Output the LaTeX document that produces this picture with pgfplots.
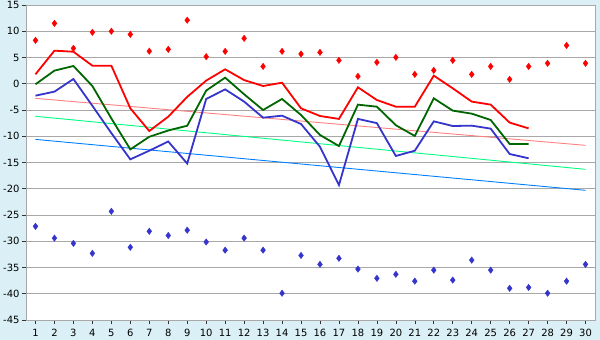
\documentclass[border=0pt]{standalone}
\usepackage{pgfplots}
\pgfplotsset{compat=1.18}
\usepackage{fontspec}
\setmainfont{DejaVu Sans}
\definecolor{bgcol}{HTML}{DAF0F6}
\definecolor{gridcol}{HTML}{A8A8A8}
\definecolor{cred}{HTML}{FF0000}
\definecolor{cgreen}{HTML}{006600}
\definecolor{cblue}{HTML}{3535CC}
\definecolor{tred}{HTML}{FF8080}
\definecolor{tgreen}{HTML}{00FF80}
\definecolor{tblue}{HTML}{0080FF}
\begin{document}
\begin{tikzpicture}
\fill[bgcol] (-26bp,-20bp) rectangle (574bp,320bp);
\useasboundingbox (-26bp,-20bp) rectangle (574bp,320bp);
\begin{axis}[
  at={(0,0)}, anchor=south west,
  scale only axis, width=569bp, height=315bp,
  xmin=0.5, xmax=30.5, ymin=-45, ymax=15,
  xtick={1,...,30}, ytick={-45,-40,...,15},
  ymajorgrids, grid style={draw=gridcol, line width=0.8bp},
  axis background/.style={fill=white},
  axis line style={draw=gridcol, line width=0.8bp},
  tick align=outside, major tick length=4bp,
  major tick style={draw=black!80, line width=0.6bp},
  xtick pos=bottom, ytick pos=left,
  tick label style={font=\fontsize{10}{12}\selectfont},
  /pgf/number format/assume math mode=true,
  xticklabel style={yshift=-1.5bp},
  yticklabel style={xshift=1bp},
  clip=false,
]
% trend lines
\addplot[tred, line width=0.9bp] coordinates {(1,-2.78) (30,-11.73)};
\addplot[tgreen, line width=0.9bp] coordinates {(1,-6.2) (30,-16.3)};
\addplot[tblue, line width=0.9bp] coordinates {(1,-10.6) (30,-20.3)};
% red line
\addplot[cred, line width=1.8bp] coordinates {
(1,1.8) (2,6.3) (3,6.1) (4,3.44) (5,3.44) (6,-4.68) (7,-9.0) (8,-6.27) (9,-2.5) (10,0.6)
(11,2.75) (12,0.7) (13,-0.43) (14,0.2) (15,-4.68) (16,-6.14) (17,-6.7) (18,-0.68) (19,-3.1) (20,-4.37)
(21,-4.37) (22,1.54) (23,-0.87) (24,-3.4) (25,-3.98) (26,-7.4) (27,-8.5)};
% green line
\addplot[cgreen, line width=1.8bp] coordinates {
(1,-0.1) (2,2.5) (3,3.38) (4,-0.43) (5,-6.6) (6,-12.5) (7,-10.1) (8,-8.9) (9,-8.0) (10,-1.3)
(11,1.16) (12,-2.0) (13,-5.0) (14,-2.9) (15,-5.95) (16,-9.76) (17,-11.86) (18,-3.98) (19,-4.37) (20,-7.9)
(21,-9.95) (22,-2.78) (23,-5.12) (24,-5.7) (25,-6.9) (26,-11.48) (27,-11.48)};
% blue line
\addplot[cblue, line width=1.8bp] coordinates {
(1,-2.27) (2,-1.5) (3,0.9) (4,-4.2) (5,-9.4) (6,-14.4) (7,-12.75) (8,-11.0) (9,-15.2) (10,-2.9)
(11,-1.07) (12,-3.4) (13,-6.46) (14,-6.08) (15,-7.67) (16,-12.0) (17,-19.3) (18,-6.7) (19,-7.5) (20,-13.76)
(21,-12.75) (22,-7.16) (23,-8.05) (24,-7.98) (25,-8.55) (26,-13.38) (27,-14.2)};
% red markers
\addplot[only marks, mark=diamond*, mark size=3.2bp, color=cred] coordinates {
(1,8.27) (2,11.5) (3,6.75) (4,9.8) (5,10.0) (6,9.4) (7,6.2) (8,6.55) (9,12.1) (10,5.16)
(11,6.17) (12,8.65) (13,3.3) (14,6.17) (15,5.67) (16,5.98) (17,4.46) (18,1.41) (19,4.08) (20,5.03)
(21,1.79) (22,2.55) (23,4.46) (24,1.79) (25,3.3) (26,0.84) (27,3.3) (28,3.89) (29,7.3) (30,3.89)};
% blue markers
\addplot[only marks, mark=diamond*, mark size=3.2bp, color=cblue] coordinates {
(1,-27.16) (2,-29.4) (3,-30.4) (4,-32.3) (5,-24.3) (6,-31.15) (7,-28.1) (8,-28.9) (9,-27.9) (10,-30.14)
(11,-31.7) (12,-29.4) (13,-31.7) (14,-39.9) (15,-32.7) (16,-34.4) (17,-33.25) (18,-35.3) (19,-37.06) (20,-36.3)
(21,-37.6) (22,-35.5) (23,-37.4) (24,-33.6) (25,-35.5) (26,-38.96) (27,-38.8) (28,-39.9) (29,-37.6) (30,-34.4)};
\end{axis}
\end{tikzpicture}
\end{document}
